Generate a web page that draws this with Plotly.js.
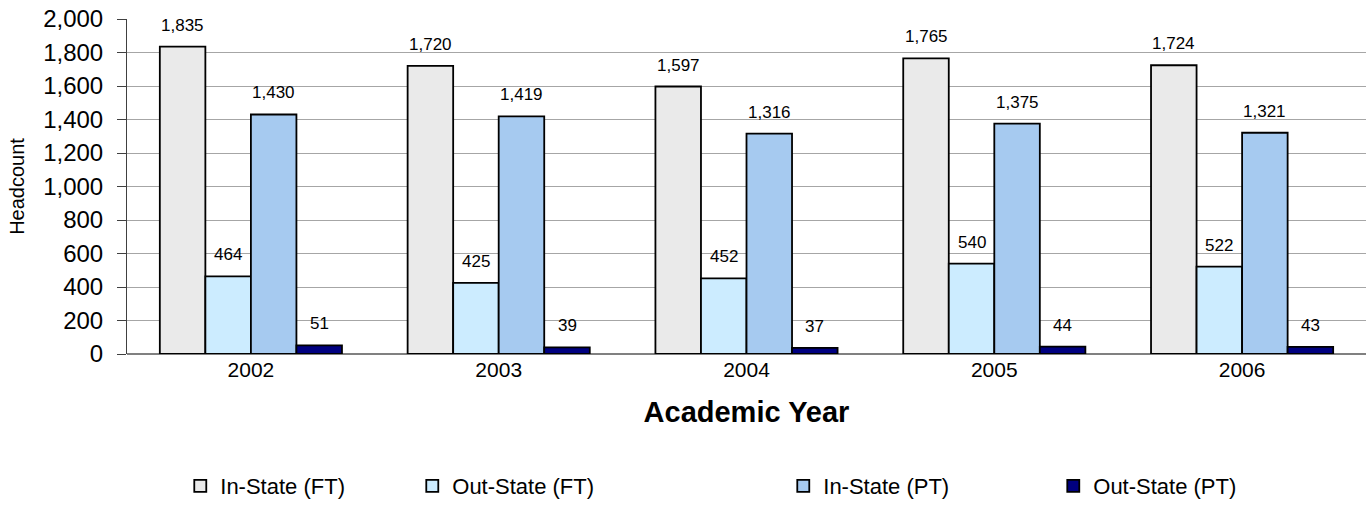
<!DOCTYPE html>
<html>
<head>
<meta charset="utf-8">
<script src="https://cdn.plot.ly/plotly-3.0.1.min.js"></script>
<style>html,body{margin:0;padding:0;background:#fff;}#chart{width:1367px;height:514px;}</style>
</head>
<body>
<div id="chart"></div>
<script>
var years = ['2002', '2003', '2004', '2005', '2006'];
var seriesNames = ['In-State (FT)', 'Out-State (FT)', 'In-State (PT)', 'Out-State (PT)'];
var inStateFT = [1835, 1720, 1597, 1765, 1724];
var outStateFT = [464, 425, 452, 540, 522];
var inStatePT = [1430, 1419, 1316, 1375, 1321];
var outStatePT = [51, 39, 37, 44, 43];
var yTicks = [0, 200, 400, 600, 800, 1000, 1200, 1400, 1600, 1800, 2000];

var seriesValues = [inStateFT, outStateFT, inStatePT, outStatePT];
var colors = ['#EAEAEA', '#CCECFF', '#A6CAF0', '#000080'];
var legendWidths = [187, 326, 225, 150];
var FONT = '"Liberation Sans", Arial, sans-serif';
var bargap = 0.265;

var traces = seriesValues.map(function (vals, i) {
  return {
    type: 'bar',
    name: seriesNames[i],
    x: years,
    y: vals,
    legendwidth: legendWidths[i],
    marker: {color: colors[i], line: {color: '#000000', width: 1.8}},
    hoverinfo: 'x+y+name'
  };
});

// value labels above each bar, positioned in data coordinates of the grouped bars
var annotations = [];
var nS = seriesValues.length;
var bw = (1 - bargap) / nS;
seriesValues.forEach(function (vals, i) {
  vals.forEach(function (v, j) {
    annotations.push({
      xref: 'x', yref: 'y',
      x: j - (1 - bargap) / 2 + (i + 0.5) * bw,
      y: v,
      text: v.toLocaleString('en-US'),
      showarrow: false,
      yanchor: 'bottom',
      yshift: 10,
      font: {family: FONT, size: 17, color: '#000'}
    });
  });
});

var layout = {
  width: 1367, height: 514,
  margin: {l: 127, r: 1, t: 19, b: 160},
  paper_bgcolor: '#fff', plot_bgcolor: '#fff',
  font: {family: FONT, color: '#000'},
  barmode: 'group',
  bargap: bargap,
  bargroupgap: 0,
  showlegend: true,
  legend: {
    orientation: 'h',
    x: 0.043, xanchor: 'left', xref: 'paper',
    y: -0.394, yanchor: 'middle',
    font: {family: FONT, size: 22, color: '#000'},
    itemwidth: 30,
    traceorder: 'normal'
  },
  xaxis: {
    type: 'category',
    tickfont: {family: FONT, size: 21, color: '#000'},
    ticks: '',
    showgrid: false,
    showline: false,
    ticklabelstandoff: 1,
    title: {text: 'Academic Year', font: {family: FONT, size: 29, color: '#000', weight: 'bold'}, standoff: 21},
    fixedrange: true
  },
  yaxis: {
    range: [0, 2000],
    tickvals: yTicks,
    ticktext: yTicks.map(function (t) { return t.toLocaleString('en-US'); }),
    tickfont: {family: FONT, size: 24, color: '#000'},
    ticks: 'outside', ticklen: 9, tickwidth: 1, tickcolor: '#404040',
    ticklabelstandoff: 9,
    showline: true, linecolor: '#404040', linewidth: 1,
    showgrid: true, gridcolor: '#A6A6A6', gridwidth: 1,
    zeroline: true, zerolinecolor: '#808080', zerolinewidth: 1.5,
    title: {text: 'Headcount', font: {family: FONT, size: 20, color: '#000'}, standoff: 13},
    fixedrange: true
  },
  annotations: annotations
};

Plotly.newPlot('chart', traces, layout, {displayModeBar: false, staticPlot: true});
</script>
</body>
</html>
